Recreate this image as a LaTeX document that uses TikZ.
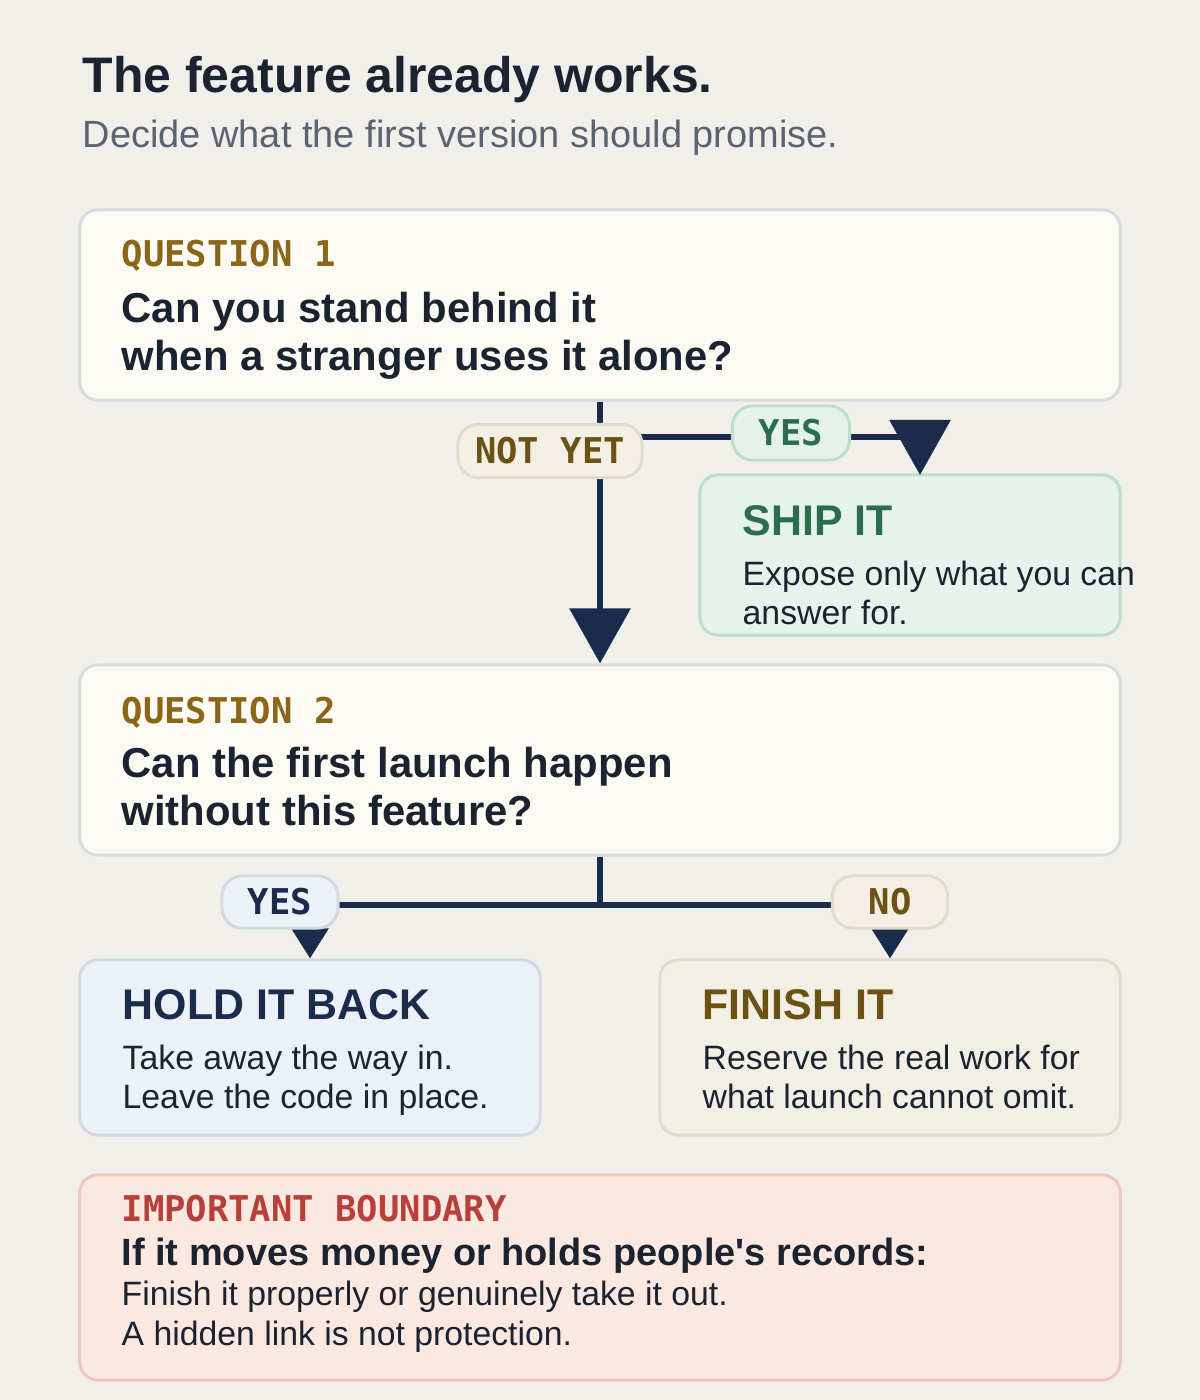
\documentclass[tikz,border=0pt]{standalone}
\usepackage{fontspec}
\setmainfont{Liberation Sans}
\setmonofont{DejaVu Sans Mono}
\usetikzlibrary{arrows.meta}

\definecolor{bg}{HTML}{F0EFEA}
\definecolor{ink}{HTML}{1B2230}
\definecolor{slate}{HTML}{5B6272}
\definecolor{navy}{HTML}{1B2B4B}
\definecolor{qfill}{HTML}{FBFBF4}
\definecolor{qline}{HTML}{D9DAE0}
\definecolor{gold}{HTML}{8B6618}
\definecolor{brown}{HTML}{6B5214}
\definecolor{shipfill}{HTML}{E8F2EC}
\definecolor{shipline}{HTML}{BCDFCD}
\definecolor{green}{HTML}{2B6E4F}
\definecolor{yesfill}{HTML}{E4F2EA}
\definecolor{holdfill}{HTML}{ECF0F7}
\definecolor{holdline}{HTML}{D4D8E1}
\definecolor{finfill}{HTML}{F2EFE5}
\definecolor{finline}{HTML}{E0DBCA}
\definecolor{notfill}{HTML}{F3EFE4}
\definecolor{warnfill}{HTML}{FBE8E1}
\definecolor{warnline}{HTML}{EFC6BD}
\definecolor{warnred}{HTML}{B8403A}

\begin{document}
\begin{tikzpicture}[x=0.01cm, y=-0.01cm,
    card/.style={draw, line width=0.85pt, rounded corners=0.18cm, inner sep=0pt},
    pill/.style={draw, line width=0.85pt, rounded corners=0.2cm, inner sep=0pt,
        font=\fontsize{10.1pt}{12pt}\ttfamily\bfseries},
    link/.style={draw=navy, line width=1.7pt},
    bigtip/.style={-{Triangle[width=0.6cm,length=0.55cm]}},
    smalltip/.style={-{Triangle[width=0.36cm,length=0.3cm]}},
    txt/.style={anchor=base west, inner sep=0pt},
    tag/.style={txt, font=\fontsize{10.1pt}{12pt}\ttfamily\bfseries},
    ask/.style={txt, text=ink, font=\fontsize{11.9pt}{14pt}\bfseries},
    head/.style={txt, font=\fontsize{12.2pt}{14pt}\bfseries},
    body/.style={txt, text=ink, font=\fontsize{9.6pt}{12pt}\selectfont}]
    % Background and page size
    \fill[bg] (0,0) rectangle (1200,1400);

    % Heading
    \node[txt, text=ink, font=\fontsize{14.2pt}{17pt}\bfseries] (title) at (82,93) {The feature already works.};
    \node[txt, text=slate, font=\fontsize{10.8pt}{13pt}\selectfont] (subtitle) at (82,148) {Decide what the first version should promise.};

    % Draw the cards
    \node[card, fill=qfill, draw=qline, minimum width=10.4cm, minimum height=1.9cm] (q1) at (600,305) {};
    \node[card, fill=shipfill, draw=shipline, minimum width=4.2cm, minimum height=1.6cm] (ship) at (910,555) {};
    \node[card, fill=qfill, draw=qline, minimum width=10.4cm, minimum height=1.9cm] (q2) at (600,760) {};
    \node[card, fill=holdfill, draw=holdline, minimum width=4.6cm, minimum height=1.75cm] (hold) at (310,1047.5) {};
    \node[card, fill=finfill, draw=finline, minimum width=4.6cm, minimum height=1.75cm] (finish) at (890,1047.5) {};
    \node[card, fill=warnfill, draw=warnline, minimum width=10.4cm, minimum height=2.05cm] (warn) at (600,1277.5) {};

    % Draw the connectors
    \coordinate (fork1) at (600,437);
    \coordinate (shipin) at (920,475);
    \coordinate (fork2) at (600,905);
    \draw[link, bigtip] (q1.south) -- (q2.north);
    \draw[link, bigtip] (fork1) -| (shipin);
    \draw[link] (q2.south) -- (fork2);
    \draw[link, smalltip] (fork2) -| (hold.north);
    \draw[link, smalltip] (fork2) -| (finish.north);

    % Add the answer pills on top
    \node[pill, fill=notfill, draw=finline, text=brown, minimum width=1.84cm, minimum height=0.53cm] (notyet) at (550,451) {NOT YET};
    \node[pill, fill=yesfill, draw=shipline, text=green, minimum width=1.17cm, minimum height=0.54cm] (yes1) at (791,433) {YES};
    \node[pill, fill=holdfill, draw=holdline, text=navy, minimum width=1.16cm, minimum height=0.52cm] (yes2) at (280,902) {YES};
    \node[pill, fill=notfill, draw=finline, text=brown, minimum width=1.15cm, minimum height=0.52cm] (no) at (890,902) {NO};

    % Question texts
    \node[tag, text=gold] (q1tag) at (121,267) {QUESTION 1};
    \node[ask] (q1a) at (121,322) {Can you stand behind it};
    \node[ask] (q1b) at (121,370) {when a stranger uses it alone?};
    \node[tag, text=gold] (q2tag) at (121,723) {QUESTION 2};
    \node[ask] (q2a) at (121,777) {Can the first launch happen};
    \node[ask] (q2b) at (121,825) {without this feature?};

    % Outcome texts
    \node[head, text=green] (shiphead) at (742,535) {SHIP IT};
    \node[body] (shipa) at (742,585) {Expose only what you can};
    \node[body] (shipb) at (742,624) {answer for.};
    \node[head, text=navy] (holdhead) at (122,1019) {HOLD IT BACK};
    \node[body] (holda) at (122,1069) {Take away the way in.};
    \node[body] (holdb) at (122,1108) {Leave the code in place.};
    \node[head, text=brown] (finhead) at (702,1019) {FINISH IT};
    \node[body] (fina) at (702,1069) {Reserve the real work for};
    \node[body] (finb) at (702,1108) {what launch cannot omit.};

    % Boundary note
    \node[tag, text=warnred] (warntag) at (121,1221) {IMPORTANT BOUNDARY};
    \node[txt, text=ink, font=\fontsize{10.8pt}{13pt}\bfseries] (warnhead) at (121,1265) {If it moves money or holds people\textquotesingle s records:};
    \node[body] (warna) at (121,1305) {Finish it properly or genuinely take it out.};
    \node[body] (warnb) at (121,1345) {A hidden link is not protection.};
\end{tikzpicture}
\end{document}
